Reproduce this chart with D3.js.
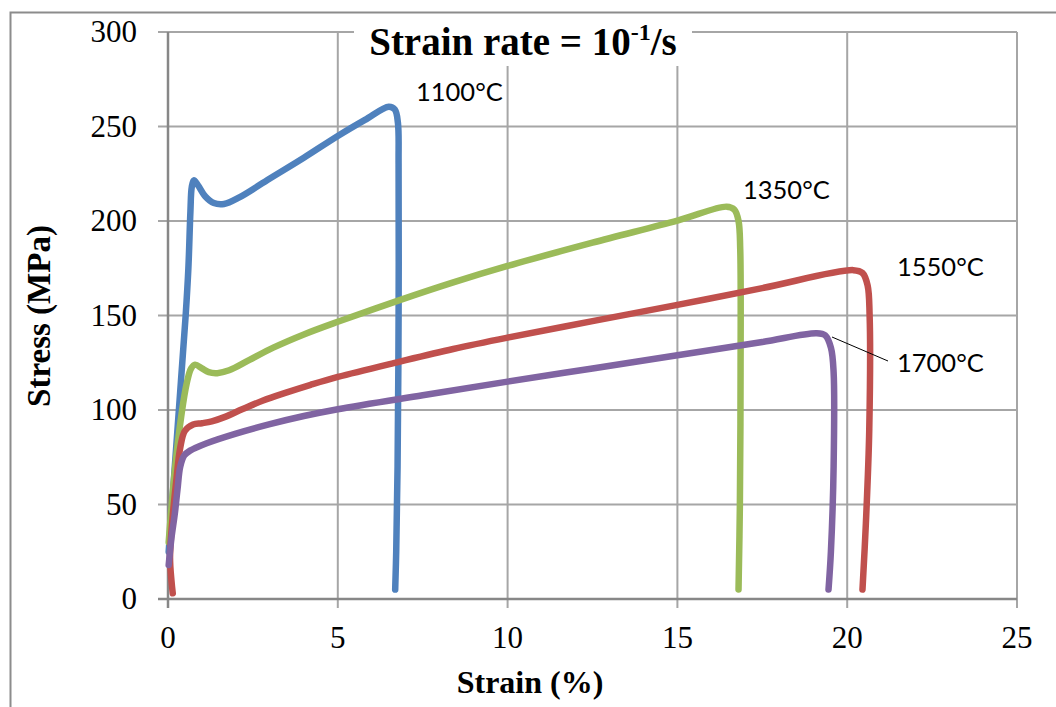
<!DOCTYPE html>
<html><head><meta charset="utf-8">
<script src="https://cdn.jsdelivr.net/npm/d3@7"></script>
<style>body{margin:0;background:#fff}svg{display:block}</style>
</head><body>
<svg id="c" width="1056" height="707"></svg>
<script>
const xTicks = [0, 5, 10, 15, 20, 25];
const yTicks = [0, 50, 100, 150, 200, 250, 300];
const seriesNames = ["1100°C", "1350°C", "1550°C", "1700°C"];
const seriesColors = ["#4F81BD", "#9BBB59", "#C0504D", "#8064A2"];
const s1100 = [[0.02,25],[0.2,70],[0.38,115],[0.52,150],[0.6,175],[0.66,205],[0.7,218],[0.76,221.5],[0.88,219],[1.1,213],[1.35,209.5],[1.65,209],[2.1,212.5],[3,222.5],[4,233.5],[5,245],[5.8,253.5],[6.5,260.5],[6.68,259],[6.77,252],[6.79,230],[6.79,150],[6.76,70],[6.72,25],[6.69,5]];
const s1350 = [[0.02,30],[0.2,68],[0.4,98],[0.55,114],[0.68,122],[0.8,124],[1.0,122],[1.2,120],[1.45,119.5],[1.8,121],[2.4,126.5],[3.1,133],[4,140],[5,146.7],[6.8,158],[8.4,167.5],[10,176.2],[12.5,188.5],[15,200.2],[16.45,207.6],[16.68,206],[16.8,200],[16.85,185],[16.86,120],[16.84,50],[16.8,5]];
const s1550 = [[0.14,3],[0.1,10],[0.06,22],[0.12,40],[0.24,62],[0.36,80],[0.5,89],[0.74,92.3],[1.0,93],[1.29,94],[1.7,96.5],[2.2,100.5],[2.8,105],[3.5,109.3],[4.2,113.3],[5,117.5],[6.8,125.5],[8.4,132.3],[10,138.3],[12.5,147],[15,155.6],[17.5,164.5],[20.18,174],[20.45,172.5],[20.6,166],[20.66,150],[20.65,90],[20.55,40],[20.45,5]];
const s1700 = [[0.02,18],[0.1,32],[0.2,45],[0.28,58],[0.36,70],[0.48,76],[0.65,78.5],[1.14,82.4],[2,87.5],[3,92.5],[4,96.8],[5,100.4],[7.5,107.8],[10,115],[12.5,122],[15,129],[17.5,136],[19.1,140.6],[19.35,139.5],[19.52,133],[19.6,120],[19.6,70],[19.52,25],[19.45,5]];
const allSeries = [s1100, s1350, s1550, s1700];

const svg = d3.select("#c");
const x = d3.scaleLinear().domain([0, 25]).range([168, 1017]);
const y = d3.scaleLinear().domain([0, 300]).range([599, 32]);

// outer chart border (extends past right/bottom)
svg.append("rect").attr("x", 10.5).attr("y", 12.5).attr("width", 1100).attr("height", 800)
  .attr("fill", "none").attr("stroke", "#8c8c8c").attr("stroke-width", 2);

// gridlines
const grid = svg.append("g");
yTicks.forEach(t => {
  grid.append("line").attr("x1", 158).attr("x2", x(25)).attr("y1", y(t)).attr("y2", y(t))
    .attr("stroke", "#a6a6a6").attr("stroke-width", 2);
});
xTicks.forEach(t => {
  grid.append("line").attr("x1", x(t)).attr("x2", x(t)).attr("y1", y(300)).attr("y2", y(0) + 9)
    .attr("stroke", "#a6a6a6").attr("stroke-width", 2);
});
// axes lines
svg.append("line").attr("x1", x(0)).attr("x2", x(0)).attr("y1", y(300)).attr("y2", y(0)+9).attr("stroke", "#878787").attr("stroke-width", 2.5);
svg.append("line").attr("x1", 158).attr("x2", x(25)).attr("y1", y(0)).attr("y2", y(0)).attr("stroke", "#878787").attr("stroke-width", 2.5);

// tick labels
const tickFont = "'Liberation Serif','Times New Roman',serif";
svg.append("g").selectAll("text").data(yTicks).join("text")
  .attr("x", 137).attr("y", d => y(d) + 10).attr("text-anchor", "end")
  .attr("font-family", tickFont).attr("font-size", 31).text(d => d);
svg.append("g").selectAll("text").data(xTicks).join("text")
  .attr("x", d => x(d)).attr("y", 648).attr("text-anchor", "middle")
  .attr("font-family", tickFont).attr("font-size", 31).text(d => d);

// axis titles
svg.append("text").attr("x", 530).attr("y", 693).attr("text-anchor", "middle")
  .attr("font-family", tickFont).attr("font-weight", "bold").attr("font-size", 32).text("Strain (%)");
svg.append("text").attr("transform", "translate(50,316) rotate(-90)").attr("text-anchor", "middle")
  .attr("font-family", tickFont).attr("font-weight", "bold").attr("font-size", 33).text("Stress (MPa)");

// series lines
const line = d3.line().x(d => x(d[0])).y(d => y(d[1])).curve(d3.curveCatmullRom.alpha(0.5));
svg.append("g").selectAll("path").data(allSeries).join("path")
  .attr("d", line).attr("fill", "none")
  .attr("stroke", (d, i) => seriesColors[i]).attr("stroke-width", 6.5)
  .attr("stroke-linecap", "round").attr("stroke-linejoin", "round");

// title with white background
svg.append("rect").attr("x", 354).attr("y", 22).attr("width", 338).attr("height", 44).attr("fill", "#fff");
const title = svg.append("text").attr("x", 523).attr("y", 55).attr("text-anchor", "middle")
  .attr("font-family", tickFont).attr("font-weight", "bold").attr("font-size", 39);
title.append("tspan").text("Strain rate = 10");
title.append("tspan").attr("font-size", 24).attr("dy", -15).text("-1");
title.append("tspan").attr("dy", 15).text("/s");

// series labels
const lblFont = "Lato, 'Open Sans', sans-serif";
const labelPos = [[416, 101], [743, 199], [897, 276], [897, 372]];
svg.append("g").selectAll("text").data(seriesNames).join("text")
  .attr("x", (d, i) => labelPos[i][0]).attr("y", (d, i) => labelPos[i][1])
  .attr("font-family", lblFont).attr("font-size", 25.5).text(d => d);
// leader line for 1700
svg.append("line").attr("x1", 832).attr("y1", 337).attr("x2", 888).attr("y2", 361)
  .attr("stroke", "#000").attr("stroke-width", 1);
</script>
</body></html>
